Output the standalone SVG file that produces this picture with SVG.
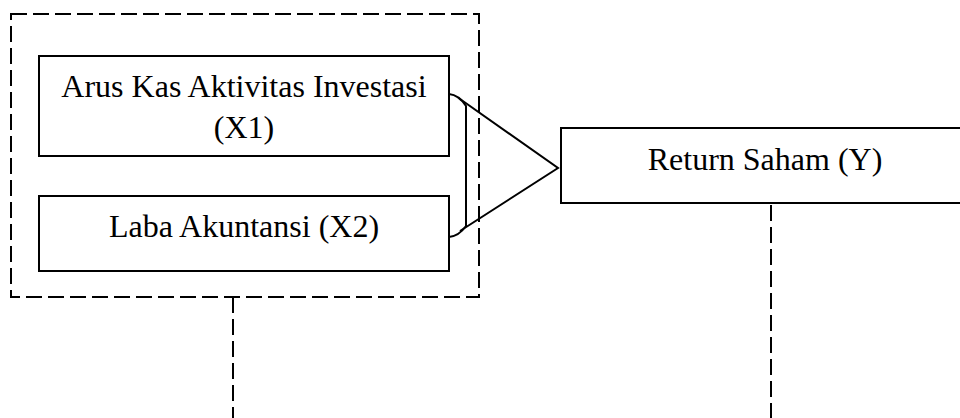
<svg xmlns="http://www.w3.org/2000/svg" width="960" height="418" viewBox="0 0 960 418">
<style>
.box{fill:#fff;stroke:#000;stroke-width:2}
.dash{fill:none;stroke:#000;stroke-width:2;stroke-dasharray:16 6}
.line{fill:none;stroke:#000;stroke-width:2}
text{font-family:"Liberation Serif","Times New Roman",serif;font-size:32px;fill:#000;text-anchor:middle}
</style>
<rect width="960" height="418" fill="#fff"/>
<g id="group-x">
<rect class="dash" x="11" y="14" width="468" height="283"/>
</g>
<g id="x1">
<rect class="box" x="39" y="56" width="410" height="100"/>
<text x="244" y="97">Arus Kas Aktivitas Investasi</text>
<text x="244" y="138">(X1)</text>
</g>
<g id="x2">
<rect class="box" x="39" y="196" width="410" height="75"/>
<text x="244" y="237">Laba Akuntansi (X2)</text>
</g>
<g id="y">
<rect class="box" x="561" y="128" width="410" height="75"/>
<text x="765" y="170">Return Saham (Y)</text>
</g>
<g id="connectors">
<path class="line" d="M449,94 Q459,95 466,106 L466,226 Q459,236 449,237"/>
<path class="line" d="M460,99 L558,168 L460,231"/>
<path class="dash" d="M233,297 V418"/>
<path class="dash" d="M771,205 V418"/>
</g>
</svg>
